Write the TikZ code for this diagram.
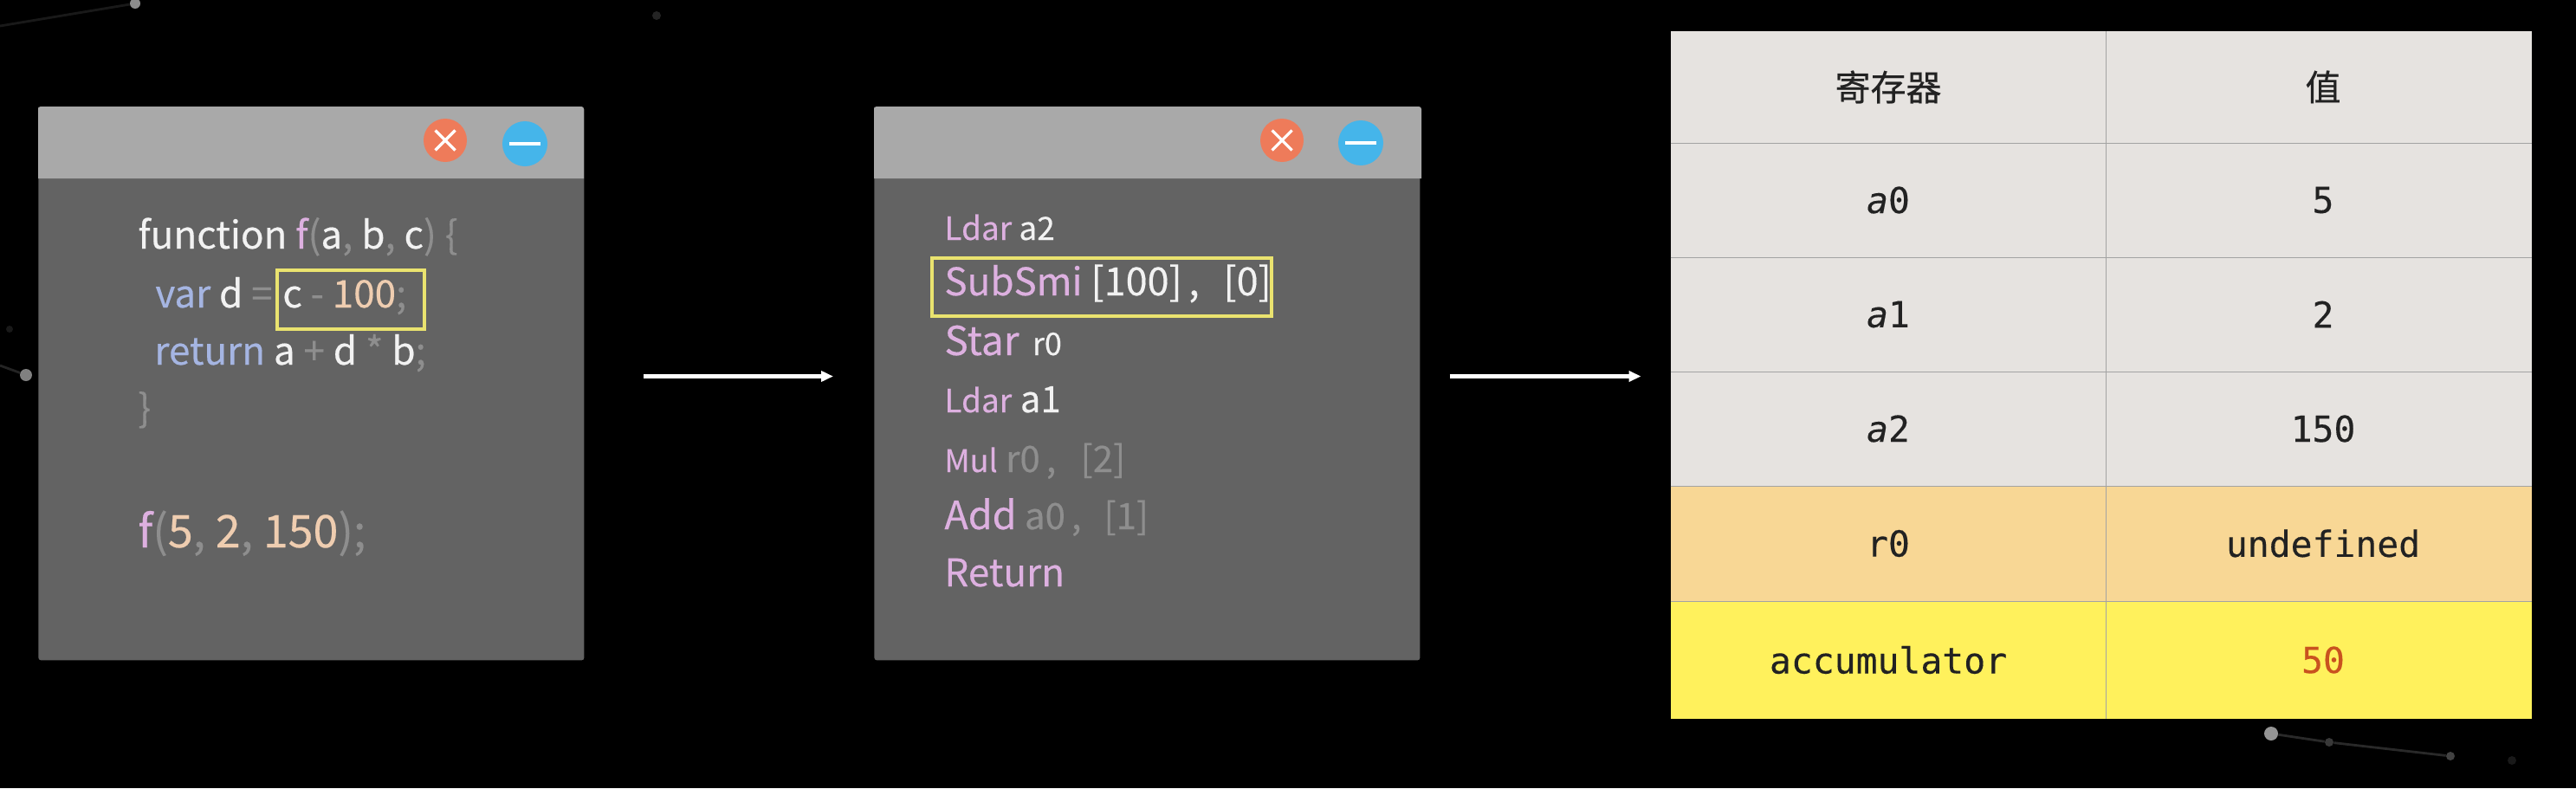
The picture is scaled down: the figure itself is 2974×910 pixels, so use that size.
\documentclass[tikz,border=0pt]{standalone}
\usepackage{fontspec}
\setmainfont{Noto Sans CJK SC}[FakeBold=0.35]
\newfontfamily\regmono{DejaVu Sans Mono}[FakeBold=0.25]
\newfontfamily\cjkface{Noto Sans CJK SC}[FakeBold=0.5]
\usetikzlibrary{arrows.meta}
\definecolor{barcol}{HTML}{A9A9A9}
\definecolor{bodycol}{HTML}{636363}
\definecolor{closecol}{HTML}{EE7B5A}
\definecolor{mincol}{HTML}{45B5EA}
\definecolor{boxcol}{HTML}{EAE36F}
\definecolor{kw}{HTML}{DDB0E0}
\definecolor{bl}{HTML}{A5B5E2}
\definecolor{nm}{HTML}{EFCDB0}
\definecolor{pn}{HTML}{8E8E8E}
\definecolor{tx}{HTML}{F2F2F2}
\definecolor{cellgrey}{HTML}{E6E3E0}
\definecolor{cellorange}{HTML}{F8D795}
\definecolor{cellyellow}{HTML}{FFF15C}
\definecolor{gridcol}{HTML}{A3A3A3}
\definecolor{inkcol}{HTML}{222222}
\definecolor{redink}{HTML}{C9521F}
\newcommand{\sz}[1]{\fontsize{#1}{#1}\selectfont}
\tikzset{
  x=0.5pt,y=-0.5pt,
  winbody/.style={anchor=north west,fill=bodycol,minimum width=315pt,minimum height=319.5pt,inner sep=0pt,rounded corners=1.5pt},
  bar/.style={fill=barcol,rounded corners=1.5pt},
  btnclose/.style={circle,fill=closecol,minimum size=25pt,inner sep=0pt},
  btnmin/.style={circle,fill=mincol,minimum size=26pt,inner sep=0pt},
  btnmark/.style={white,line width=1.6pt},
  code/.style={anchor=base west,inner sep=0pt,text=tx,font=\sz{22}},
  hibox/.style={draw=boxcol,line width=2pt,inner sep=0pt,anchor=north west},
  flow/.style={white,line width=2.1pt,-{Triangle[length=7pt,width=6pt]}},
  cell/.style={anchor=center,inner sep=0pt,text=inkcol},
  gridline/.style={draw=gridcol,line width=0.9pt},
  speck/.style={circle,fill=#1,inner sep=0pt,minimum size=7pt},
  faintline/.style={line width=1.4pt}
}
\begin{document}
\begin{tikzpicture}
\useasboundingbox[fill=black] (0,0) rectangle (2974,910);

% faint background network
\node[speck=white!55!black,minimum size=6pt] (s1) at (156,4) {};
\coordinate (s1e) at (0,30);
\draw[faintline,color=white!10!black] (s1) -- (s1e);
\node[speck=white!14!black,minimum size=5pt] (s2) at (758,18) {};
\node[speck=white!50!black,minimum size=7pt] (s3) at (30,433) {};
\coordinate (s3e) at (0,422);
\draw[faintline,color=white!14!black] (s3) -- (s3e);
\node[speck=white!10!black,minimum size=4pt] (s4) at (11,380) {};
\node[speck=white!58!black,minimum size=8pt] (s5) at (2622,847) {};
\node[speck=white!22!black,minimum size=5pt] (s6) at (2689,857) {};
\node[speck=white!26!black,minimum size=5pt] (s7) at (2829,873) {};
\node[speck=white!10!black,minimum size=5pt] (s8) at (2900,878) {};
\draw[faintline,color=white!16!black] (s5) -- (s6) -- (s7);

% window 1
\node[winbody] (w1) at (44,123) {};
\fill[bar,sharp corners] (44,206) -- (674,206) -- (674,126) [rounded corners=1.5pt] -- (674,123) -- (44,123) -- (44,126) [sharp corners] -- cycle;
\node[btnclose] (w1close) at (514,162) {};
\node[btnmin] (w1min) at (606,166) {};
\draw[btnmark] ([shift={(-11.5,-11.5)}]w1close.center) -- ([shift={(11.5,11.5)}]w1close.center);
\draw[btnmark] ([shift={(-11.5,11.5)}]w1close.center) -- ([shift={(11.5,-11.5)}]w1close.center);
\draw[btnmark] ([xshift=-9pt]w1min.center) -- ([xshift=9pt]w1min.center);

\node[code] (l1) at (159,287) {function \textcolor{kw}{f}\textcolor{pn}{(}a\textcolor{pn}{,} b\textcolor{pn}{,} c\textcolor{pn}{) \{}};
\node[code] (l2) at (179,355) {\textcolor{bl}{var} d \textcolor{pn}{=}};
\node[hibox,minimum width=85pt,minimum height=34pt] (h1) at (318,310) {};
\node[code] (l2b) at (326,355) {c \textcolor{pn}{-} \textcolor{nm}{100}\textcolor{pn}{;}};
\node[code] (l3) at (178,421) {\textcolor{bl}{return} a \textcolor{pn}{+} d \textcolor{pn}{*} b\textcolor{pn}{;}};
\node[code] (l4) at (159,487) {\textcolor{pn}{\}}};
\node[code,font=\sz{26}] (l5) at (159,632) {\textcolor{kw}{f}\textcolor{pn}{(}\textcolor{nm}{5}\textcolor{pn}{,} \textcolor{nm}{2}\textcolor{pn}{,} \textcolor{nm}{150}\textcolor{pn}{);}};

% window 2
\node[winbody] (w2) at (1009,123) {};
\fill[bar,sharp corners] (1009,206) -- (1641,206) -- (1641,126) [rounded corners=1.5pt] -- (1641,123) -- (1009,123) -- (1009,126) [sharp corners] -- cycle;
\node[btnclose] (w2close) at (1480,162) {};
\node[btnmin] (w2min) at (1571,165) {};
\draw[btnmark] ([shift={(-11.5,-11.5)}]w2close.center) -- ([shift={(11.5,11.5)}]w2close.center);
\draw[btnmark] ([shift={(-11.5,11.5)}]w2close.center) -- ([shift={(11.5,-11.5)}]w2close.center);
\draw[btnmark] ([xshift=-9pt]w2min.center) -- ([xshift=9pt]w2min.center);

\node[code,font=\sz{18.5}] (b1) at (1090,277) {\textcolor{kw}{Ldar} a2};
\node[hibox,minimum width=196pt,minimum height=33.5pt] (h2) at (1074,296) {};
\node[code] (b2) at (1090,341) {\textcolor{kw}{SubSmi} {\sz{22.5}[100]\,,\ \ \,[0]}};
\node[code,font=\sz{23}] (b3) at (1090,410) {\textcolor{kw}{Star}\hspace{-1.5pt} {\sz{18} r0}};
\node[code,font=\sz{18.5}] (b4) at (1090,476) {\textcolor{kw}{Ldar}\hspace{-4pt} {\sz{21} a1}};
\node[code,text=pn,font=\sz{21}] (b5) at (1090,545) {\textcolor{kw}{\sz{18}Mul} r0\,,\ \ \ [2]};
\node[code,text=pn,font=\sz{21}] (b6) at (1090,611) {\textcolor{kw}{\sz{22.5}Add} a0\,,\ \ \,[1]};
\node[code,text=kw] (b7) at (1090,677) {Return};

% table
\node[cell,minimum width=251pt,fill=cellgrey,minimum height=64.5pt] (r0a) at (2180,100.5) {\cjkface\sz{20.5}寄存器};
\node[cell,minimum width=246pt,fill=cellgrey,minimum height=64.5pt] (r0b) at (2677,100.5) {\hspace{5pt}\cjkface\sz{20.5}值};
\foreach \nm/\yy/\hh/\fc/\ta/\tb/\tc in {r1/231/66/cellgrey/\textit{a}0/5/inkcol,r2/363/66/cellgrey/\textit{a}1/2/inkcol,r3/495/66/cellgrey/\textit{a}2/150/inkcol,r4/627.5/66.5/cellorange/r0/undefined/inkcol,r5/762/68/cellyellow/accumulator/50/redink}{
  \node[cell,minimum width=251pt,minimum height=\hh pt,fill=\fc,font=\regmono\sz{20.7}] (\nm a) at (2180,\yy) {\ta};
  \node[cell,minimum width=246pt,minimum height=\hh pt,fill=\fc,font=\regmono\sz{20.7},text=\tc] (\nm b) at (2677,\yy) {\hspace{5pt}\tb};
}
\foreach \nm in {r0,r1,r2,r3,r4}{
  \draw[gridline] (\nm a.south west) -- (\nm b.south east);
}
\draw[gridline] (r0a.north east) -- (r5a.south east);
\node[inner sep=0pt,minimum width=497pt,minimum height=397pt] (tbl) at (2426,433) {};

% arrows
\draw[flow,shorten <=34pt,shorten >=23.5pt] ([yshift=4.2pt]w1.east) -- ([yshift=4.2pt]w2.west);
\draw[flow,shorten <=17pt,shorten >=17pt] ([yshift=4.2pt]w2.east) -- ([yshift=4.2pt]w2.east -| tbl.west);
\end{tikzpicture}
\end{document}
